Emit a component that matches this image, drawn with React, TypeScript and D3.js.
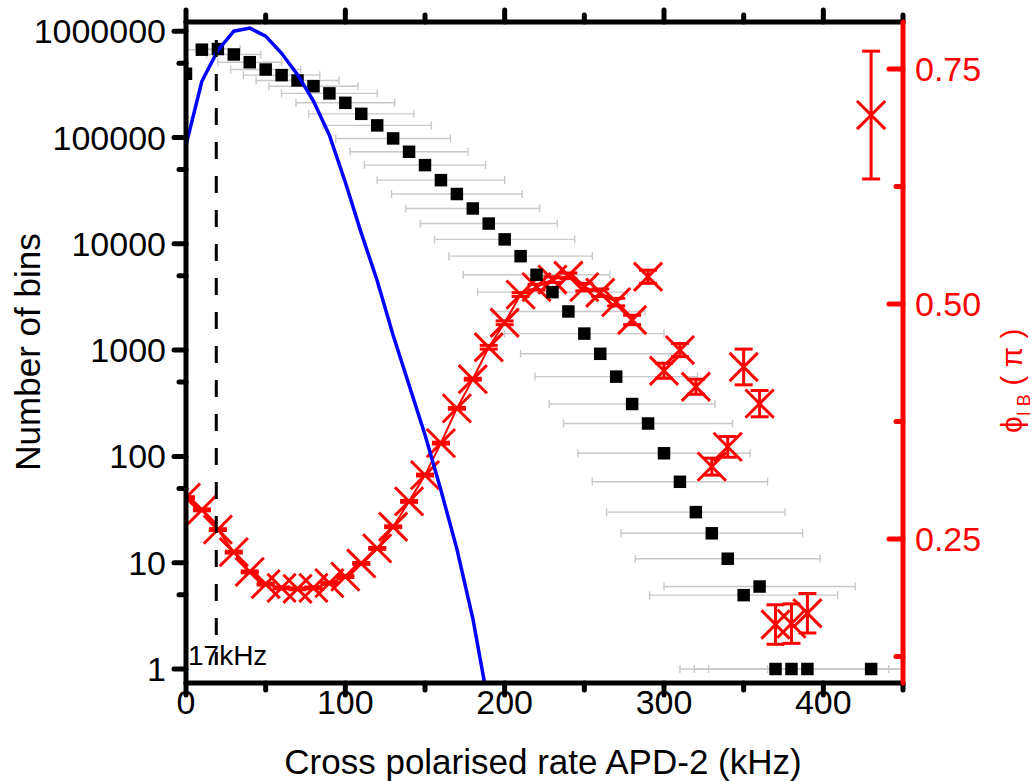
import React, { useEffect, useRef } from 'react';
import * as d3 from 'd3';

// black squares: number of bins per cross polarised rate
const rateKHz = [0, 10, 20, 30, 40, 50, 60, 70, 80, 90, 100, 110, 120, 130, 140, 150, 160, 170, 180, 190,
  200, 210, 220, 230, 240, 250, 260, 270, 280, 290, 300, 310, 320, 330, 340, 350, 360, 370, 380, 390, 430];
const binCounts = [398000, 670000, 680000, 604000, 511000, 436000, 386000, 344000, 304000, 260000, 212000,
  167000, 130000, 98000, 73400, 55000, 39700, 29400, 21500, 15500, 11000, 7650, 5110, 3510, 2310, 1430,
  923, 563, 311, 204, 107, 57.7, 29.9, 18.9, 10.9, 4.95, 5.97, 1, 1, 1, 1];
const rateErrKHz = [0, 10, 14, 17, 20, 22, 24, 26, 28, 30, 31, 33, 34, 36, 37, 38, 40, 41, 42, 43,
  44, 45, 46, 47, 48, 50, 50, 51, 52, 53, 54, 55, 56, 57, 58, 59, 60, 60, 61, 62, 65];

// blue fit curve
const fitRateKHz = [0, 10, 20, 30, 40, 50, 60, 70, 80, 90, 100, 110, 120, 130, 140, 150, 160, 170, 180, 190];
const fitCounts = [85000, 340000, 660000, 1000000, 1070000, 900000, 620000, 390000, 220000, 105000,
  38000, 12600, 4500, 1380, 470, 160, 48, 13.5, 3.0, 0.45];

// red crosses: phase (units of pi)
const phaseRateKHz = rateKHz;
const phaseVal = [0.294, 0.281, 0.260, 0.236, 0.215, 0.202, 0.198, 0.197, 0.198, 0.203, 0.210, 0.224,
  0.240, 0.263, 0.290, 0.318, 0.352, 0.389, 0.420, 0.454, 0.480, 0.510, 0.518, 0.526, 0.530, 0.518,
  0.512, 0.502, 0.483, 0.529, 0.429, 0.451, 0.412, 0.327, 0.348, 0.433, 0.394, 0.159, 0.160, 0.171, 0.701];
const phaseErr = [0.001, 0.001, 0.001, 0.001, 0.001, 0.001, 0.001, 0.001, 0.001, 0.001, 0.001, 0.001,
  0.001, 0.001, 0.001, 0.001, 0.001, 0.001, 0.001, 0.002, 0.002, 0.002, 0.003, 0.003, 0.003, 0.004,
  0.004, 0.004, 0.005, 0.007, 0.008, 0.007, 0.008, 0.009, 0.011, 0.019, 0.014, 0.021, 0.021, 0.021, 0.068];
const phaseLineEnd = 280;

const xTicks = [0, 100, 200, 300, 400];
const xMinor = [50, 150, 250, 350, 450];
const leftTicks = [1, 10, 100, 1000, 10000, 100000, 1000000];
const leftMinor = [5, 50, 500, 5000, 50000, 500000];
const rightTicks = [0.25, 0.5, 0.75];
const rightMinor = [0.125, 0.375, 0.625];
const cutoffKHz = 19;

const FONT = '"Liberation Sans", Arial, sans-serif';

const App: React.FC = () => {
  const svgRef = useRef<SVGSVGElement>(null);

  useEffect(() => {
    if (!svgRef.current) return;
    const svg = d3.select(svgRef.current);
    svg.selectAll('*').remove();

    const L = 186, R = 903, T = 22, B = 683;
    const x = d3.scaleLinear().domain([0, 450]).range([L, R]);
    const yL = d3.scaleLog().domain([Math.pow(10, -0.1317), Math.pow(10, 6.0866)]).range([B, T]);
    const yR = d3.scaleLinear().domain([0.0968, 0.8]).range([B, T]);

    svg.append('clipPath').attr('id', 'plot').append('rect')
      .attr('x', L).attr('y', T).attr('width', R - L).attr('height', B - T);
    const g = svg.append('g').attr('clip-path', 'url(#plot)');

    // horizontal error bars (gray)
    const eb = g.append('g').attr('stroke', '#c8c8c8').attr('stroke-width', 1.4);
    rateKHz.forEach((r, i) => {
      const e = rateErrKHz[i];
      if (!e) return;
      const yy = yL(binCounts[i]);
      eb.append('line').attr('x1', x(r - e)).attr('x2', x(r + e)).attr('y1', yy).attr('y2', yy);
      [r - e, r + e].forEach(v => eb.append('line').attr('x1', x(v)).attr('x2', x(v)).attr('y1', yy - 4).attr('y2', yy + 4));
    });

    // red phase line + error bars + crosses
    const lineData = phaseRateKHz.map((r, i) => [r, phaseVal[i]] as [number, number]).filter(d => d[0] <= phaseLineEnd);
    g.append('path').datum(lineData)
      .attr('fill', 'none').attr('stroke', '#ff0000').attr('stroke-width', 2)
      .attr('d', d3.line<[number, number]>().x(d => x(d[0])).y(d => yR(d[1])));
    const red = g.append('g').attr('stroke', '#ff0000').attr('stroke-width', 3).attr('fill', 'none');
    const cross = d3.symbol(d3.symbolX, 522);
    phaseRateKHz.forEach((r, i) => {
      const cx = x(r);
      const y0 = yR(phaseVal[i] - phaseErr[i]);
      const y1 = yR(phaseVal[i] + phaseErr[i]);
      red.append('line').attr('x1', cx).attr('x2', cx).attr('y1', y0).attr('y2', y1);
      [y0, y1].forEach(yy => red.append('line').attr('x1', cx - 9).attr('x2', cx + 9).attr('y1', yy).attr('y2', yy));
      red.append('path').attr('d', cross()).attr('transform', `translate(${cx},${yR(phaseVal[i])})`);
    });

    // black squares
    const sq = d3.symbol(d3.symbolSquare, 156);
    g.append('g').selectAll('path').data(rateKHz).join('path')
      .attr('d', sq()).attr('fill', '#000')
      .attr('transform', (r, i) => `translate(${x(r)},${yL(binCounts[i])})`);

    // blue fit
    g.append('path').datum(fitRateKHz.map((r, i) => [r, fitCounts[i]] as [number, number]))
      .attr('fill', 'none').attr('stroke', '#0000ff').attr('stroke-width', 3.5)
      .attr('d', d3.line<[number, number]>().x(d => x(d[0])).y(d => yL(d[1])));

    // cutoff marker
    svg.append('line').attr('x1', x(cutoffKHz)).attr('x2', x(cutoffKHz)).attr('y1', 40).attr('y2', 665)
      .attr('stroke', '#000').attr('stroke-width', 3).attr('stroke-dasharray', '17,17');
    svg.append('text').attr('x', 188).attr('y', 665).attr('font-family', FONT).attr('font-size', 28)
      .text(`${cutoffKHz - 2}kHz`);

    // axes
    const ax = svg.append('g').attr('stroke-linecap', 'round');
    const blk = (x1: number, y1: number, x2: number, y2: number, c = '#000') =>
      ax.append('line').attr('x1', x1).attr('y1', y1).attr('x2', x2).attr('y2', y2).attr('stroke', c).attr('stroke-width', 5);

    xTicks.forEach(v => { blk(x(v), B, x(v), B + 12); blk(x(v), T, x(v), T - 12); });
    xMinor.forEach(v => { blk(x(v), B, x(v), B + 7); blk(x(v), T, x(v), T - 7); });
    leftTicks.forEach(v => blk(L, yL(v), L - 12, yL(v)));
    leftMinor.forEach(v => blk(L, yL(v), L - 7, yL(v)));
    blk(L, T, L, B);
    blk(L, T, R, T);
    blk(L, B, R, B);
    rightTicks.forEach(v => blk(R, yR(v), R - 14, yR(v), '#ff0000'));
    rightMinor.forEach(v => blk(R, yR(v), R - 7, yR(v), '#ff0000'));
    blk(R, T, R, B, '#ff0000');

    const txt = svg.append('g').attr('font-family', FONT).attr('font-size', 34);
    xTicks.forEach(v => txt.append('text').attr('x', x(v)).attr('y', 714).attr('text-anchor', 'middle').text(String(v)));
    leftTicks.forEach(v => txt.append('text').attr('x', 166).attr('y', yL(v) + 12).attr('text-anchor', 'end').text(String(v)));
    rightTicks.forEach(v => txt.append('text').attr('x', 915).attr('y', yR(v) + 12).attr('fill', '#ff0000').text(v.toFixed(2)));

    txt.append('text').attr('x', 543).attr('y', 774).attr('text-anchor', 'middle').attr('font-size', 35)
      .text('Cross polarised rate APD-2 (kHz)');
    txt.append('text').attr('transform', 'translate(40,352) rotate(-90)').attr('text-anchor', 'middle').attr('font-size', 35)
      .text('Number of bins');

    const rt = txt.append('text').attr('transform', 'translate(1022,433) rotate(-90)').attr('fill', '#ff0000').attr('font-size', 30);
    rt.append('tspan').text('ϕ');
    rt.append('tspan').attr('font-size', 18).attr('dy', 8).text('I B');
    rt.append('tspan').attr('dy', -8).text(' ( π )');
  }, []);

  return (
    <svg ref={svgRef} width={1034} height={781} style={{ position: 'absolute', left: 0, top: 0, background: '#fff' }} />
  );
};

export default App;
